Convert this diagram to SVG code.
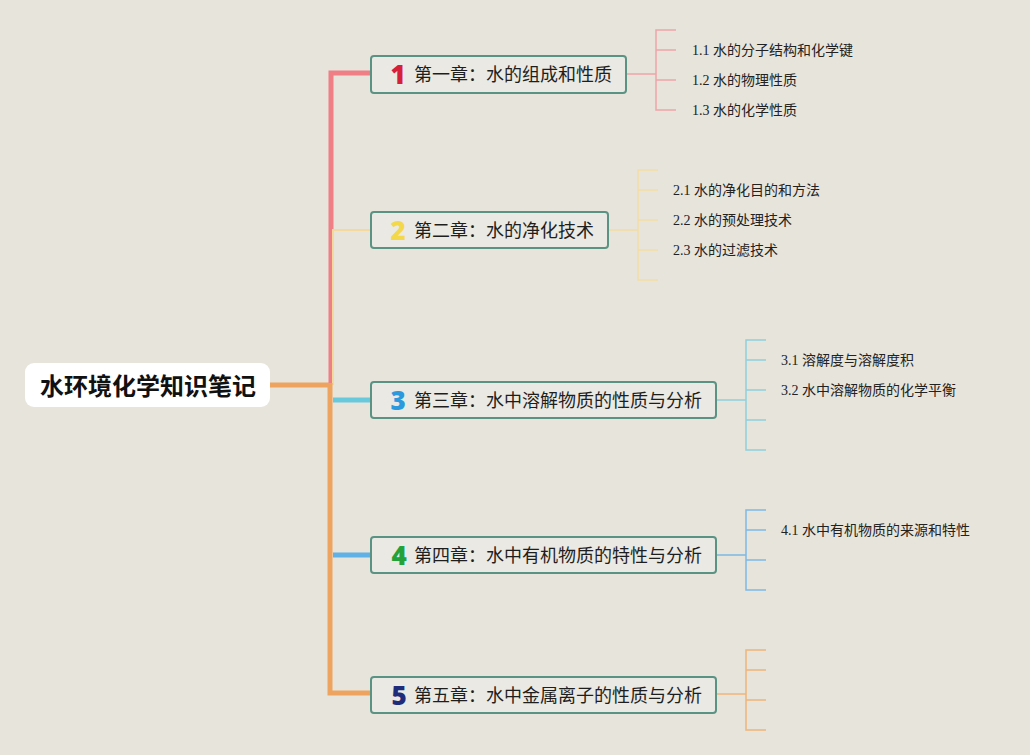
<svg xmlns="http://www.w3.org/2000/svg" width="1030" height="755" viewBox="0 0 1030 755">
<style>
.bg{fill:#e7e4dc}
.chap rect{fill:#ebe9e3;stroke:#5a9384;stroke-width:2}
.chap text.t{font-family:"Noto Sans CJK SC","Noto Sans",sans-serif;font-size:18px;fill:#1e1e1e}
.chap text.n{font-family:"Noto Sans","Liberation Sans",Arial,sans-serif;font-size:26px;font-weight:900}
.sub{font-family:"Liberation Serif","Noto Sans CJK SC",serif;font-size:14px;fill:#222}
.c path,.c line{fill:none}
</style>
<rect class="bg" x="0" y="0" width="1030" height="755"/>
<g id="connectors" class="c">
  <path d="M270 385 H331" stroke="#eea35e" stroke-width="5"/>
  <path d="M331 385 V73 H371" stroke="#ef7e85" stroke-width="5"/>
  <path d="M333 385 V230 H371" stroke="#f5d99c" stroke-width="2"/>
  <path d="M333 400 H371" stroke="#68c8dc" stroke-width="5"/>
  <path d="M333 555 H371" stroke="#5fb1e6" stroke-width="5"/>
  <path d="M330 383 V693 H371" stroke="#eea35e" stroke-width="5"/>
  <g stroke="#eea4a8" stroke-width="1.5">
    <path d="M626 74 H656"/>
    <path d="M676 30 H656 V110 H676"/>
    <path d="M656 50 H676 M656 80 H676"/>
  </g>
  <g stroke="#f5dca2" stroke-width="1.5">
    <path d="M608 230 H638"/>
    <path d="M658 170 H638 V280 H658"/>
    <path d="M638 190 H658 M638 220 H658 M638 250 H658"/>
  </g>
  <g stroke="#8ed0dc" stroke-width="1.5">
    <path d="M716 400 H746"/>
    <path d="M766 340 H746 V450 H766"/>
    <path d="M746 360 H766 M746 390 H766 M746 420 H766"/>
  </g>
  <g stroke="#7db9e6" stroke-width="1.5">
    <path d="M716 555 H746"/>
    <path d="M766 510 H746 V590 H766"/>
    <path d="M746 530 H766 M746 560 H766"/>
  </g>
  <g stroke="#f0b47a" stroke-width="1.5">
    <path d="M716 694 H746"/>
    <path d="M766 650 H746 V730 H766"/>
    <path d="M746 670 H766 M746 700 H766"/>
  </g>
</g>
<g id="root">
  <rect x="25" y="363" width="245" height="44" rx="9" fill="#ffffff"/>
  <text x="148" y="395" text-anchor="middle" font-family="Noto Sans CJK SC, sans-serif" font-size="24" font-weight="bold" fill="#111">水环境化学知识笔记</text>
</g>
<g id="ch1" class="chap">
  <rect x="371" y="56" width="255" height="37" rx="3"/>
  <text class="n" x="398" y="84" text-anchor="middle" fill="#d6203a">1</text>
  <text class="t" x="414" y="81">第一章：水的组成和性质</text>
</g>
<g id="ch2" class="chap">
  <rect x="371" y="212" width="237" height="36" rx="3"/>
  <text class="n" x="398" y="240" text-anchor="middle" fill="#f3d84a">2</text>
  <text class="t" x="414" y="237">第二章：水的净化技术</text>
</g>
<g id="ch3" class="chap">
  <rect x="371" y="382" width="345" height="36" rx="3"/>
  <text class="n" x="398" y="410" text-anchor="middle" fill="#2c99df">3</text>
  <text class="t" x="414" y="407">第三章：水中溶解物质的性质与分析</text>
</g>
<g id="ch4" class="chap">
  <rect x="371" y="537" width="345" height="36" rx="3"/>
  <text class="n" x="399" y="565" text-anchor="middle" fill="#24a23a">4</text>
  <text class="t" x="414" y="562">第四章：水中有机物质的特性与分析</text>
</g>
<g id="ch5" class="chap">
  <rect x="371" y="677" width="345" height="36" rx="3"/>
  <text class="n" x="399" y="705" text-anchor="middle" fill="#1f2c7c">5</text>
  <text class="t" x="414" y="702">第五章：水中金属离子的性质与分析</text>
</g>
<g id="s11"><text class="sub" x="692" y="55">1.1 水的分子结构和化学键</text></g>
<g id="s12"><text class="sub" x="692" y="85">1.2 水的物理性质</text></g>
<g id="s13"><text class="sub" x="692" y="115">1.3 水的化学性质</text></g>
<g id="s21"><text class="sub" x="673" y="195">2.1 水的净化目的和方法</text></g>
<g id="s22"><text class="sub" x="673" y="225">2.2 水的预处理技术</text></g>
<g id="s23"><text class="sub" x="673" y="255">2.3 水的过滤技术</text></g>
<g id="s31"><text class="sub" x="781" y="365">3.1 溶解度与溶解度积</text></g>
<g id="s32"><text class="sub" x="781" y="395">3.2 水中溶解物质的化学平衡</text></g>
<g id="s41"><text class="sub" x="781" y="535">4.1 水中有机物质的来源和特性</text></g>
</svg>
